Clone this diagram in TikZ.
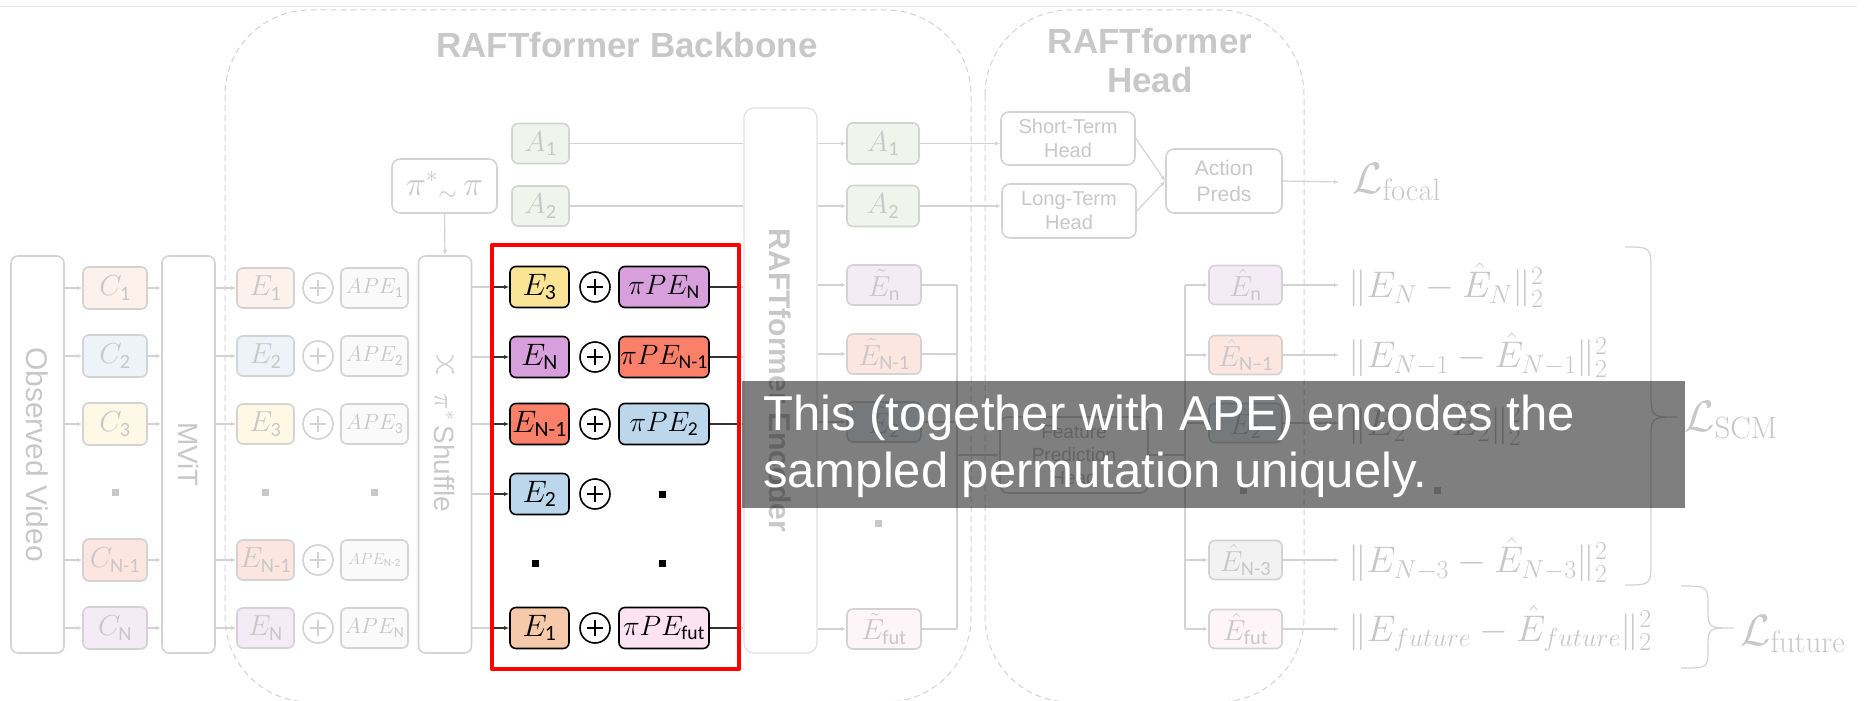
\documentclass[tikz,border=0pt]{standalone}
\usepackage{fix-cm}
\usepackage{amsmath}
\usepackage[no-math]{fontspec}
\setmainfont{Liberation Sans}
\newfontfamily\subsf{Carlito}
\usetikzlibrary{arrows.meta}

% italic symbol with an upright sans index
\newcommand{\tok}[2]{$#1_{\text{\subsf #2}}$}

\begin{document}
\begin{tikzpicture}[x=1pt,y=-1pt,line join=round,
  colframe/.style={draw=fadeln,line width=1.6pt,rounded corners=7pt,
    minimum width=53pt,minimum height=397pt,inner sep=0pt},
  fadebox/.style={draw=fadeln,line width=1.6pt,rounded corners=6pt,minimum width=57pt,
    minimum height=40pt,inner sep=0pt,text=fadetx,font=\fontsize{29}{32}\selectfont},
  spotbox/.style={draw=black,line width=1.6pt,rounded corners=6pt,minimum width=59pt,
    minimum height=41pt,inner sep=0pt,font=\fontsize{31}{34}\selectfont},
  textbox/.style={draw=fadeln,line width=1.6pt,rounded corners=8pt,fill=white,
    text=fadetx,align=center,inner sep=0pt},
  oplus/.style={circle,draw=#1,line width=1.6pt,minimum size=30pt,inner sep=0pt,
    path picture={\draw[#1,line width=1.6pt]
      ([xshift=-8pt]path picture bounding box.center) -- ([xshift=8pt]path picture bounding box.center)
      ([yshift=-8pt]path picture bounding box.center) -- ([yshift=8pt]path picture bounding box.center);}},
  fadedot/.style={fill=fadetx,minimum size=7pt,inner sep=0pt},
  spotdot/.style={fill=black,minimum size=7pt,inner sep=0pt},
  fline/.style={draw=fadeln,line width=1.2pt},
  farr/.style={fline,-{Latex[length=5pt,width=4pt]}},
  sline/.style={draw=black!80,line width=1.2pt},
  sarr/.style={sline,-{Latex[length=5pt,width=4pt]}},
  loss/.style={anchor=west,text=fadetx,inner sep=0pt,font=\fontsize{37}{40}\selectfont},
  lossname/.style={anchor=west,text=fadetx,inner sep=0pt,font=\fontsize{44}{46}\selectfont},
  brace/.style={draw=fadeln,line width=1.2pt},
  dashbox/.style={draw=fadeln,line width=1pt,dash pattern=on 6pt off 4pt,rounded corners=85pt}]
  \definecolor{fadeln}{HTML}{D3D3D3}
  \definecolor{fadetx}{HTML}{C8C8C8}
  \definecolor{encln}{HTML}{E0E0E0}
  \definecolor{topln}{HTML}{EBEBEB}
  \definecolor{fpeach}{HTML}{FDF2EB}
  \definecolor{fblue}{HTML}{EEF3F9}
  \definecolor{fyellow}{HTML}{FEF8E5}
  \definecolor{fsalmon}{HTML}{FDE5E0}
  \definecolor{fpurple}{HTML}{F4EBF6}
  \definecolor{fgreen}{HTML}{EFF5EC}
  \definecolor{fgray}{HTML}{F2F2F2}
  \definecolor{fpink}{HTML}{FEF5F9}
  \definecolor{fwhite}{HTML}{FAFAFA}
  \definecolor{syellow}{HTML}{FCE496}
  \definecolor{spurple}{HTML}{D7A0DC}
  \definecolor{ssalmon}{HTML}{FA8069}
  \definecolor{sblue}{HTML}{BCD6EC}
  \definecolor{speach}{HTML}{F6C9AA}
  \definecolor{spink}{HTML}{FDE2F2}

  \path[use as bounding box] (0,0) rectangle (1864,701);
  \draw[topln,line width=1pt] (0,7) -- (1857,7);

  % dashed stage outlines and their titles
  \draw[dashbox] (225,10) rectangle (971,702);
  \draw[dashbox] (985,10) rectangle (1304,702);
  \node[text=fadetx,font=\bfseries\fontsize{35}{39}\selectfont] at (627,45) {RAFTformer Backbone};
  \node[text=fadetx,font=\bfseries\fontsize{35}{39}\selectfont,align=center] at (1150,60) {RAFTformer\\Head};

  % video, MViT and shuffle columns
  \node[colframe] (vid) at (37.5,454.5) {};
  \node[colframe] (mvit) at (188.5,454.5) {};
  \node[colframe] (shuf) at (445,454.5) {};
  \node[rotate=-90,text=fadetx,font=\fontsize{30}{32}\selectfont] at (vid) {Observed Video};
  \node[rotate=-90,text=fadetx,font=\fontsize{28}{30}\selectfont] at (mvit) {MViT};
  \node[rotate=-90,text=fadetx,font=\fontsize{28}{30}\selectfont] at (445,453) {$\pi^{*}$\,Shuffle};
  % shuffle glyph
  \draw[fline,line width=1.5pt,-{Latex[length=4pt,width=4pt]}]
    (437,355) .. controls (437,365) and (453,364) .. (453,375);
  \draw[fline,line width=1.5pt,-{Latex[length=4pt,width=4pt]}]
    (453,355) .. controls (453,365) and (437,364) .. (437,375);

  \foreach \y/\id/\sub/\apesub/\apesz/\fc in {288/1/1/1/22/fpeach,356/2/2/2/22/fblue,
      424/3/3/3/22/fyellow,560/5/N-1/N-2/16/fsalmon,628/6/N/N/22/fpurple}{
    \node[fadebox,fill=\fc,minimum width=64pt,minimum height=42pt] (c\id) at (115,\y) {\tok{C}{\sub}};
    \node[fadebox,fill=\fc] (e\id) at (265.5,\y) {\tok{E}{\sub}};
    \node[oplus=fadeln] (p\id) at (318,\y) {};
    \node[fadebox,fill=fwhite,minimum width=67pt,font=\fontsize{\apesz}{\apesz}\selectfont]
      (ape\id) at (374.5,\y) {\tok{APE}{\apesub}};
    \draw[farr] (vid.east |- c\id.west) -- (c\id.west);
    \draw[farr] (c\id.east) -- (mvit.west |- c\id.east);
    \draw[farr] (mvit.east |- e\id.west) -- (e\id.west);
  }
  \foreach \x in {115,265.5,374.5}{
    \node[fadedot] at (\x,492) {};
  }

  % sampled permutation
  \node[textbox,minimum width=105pt,minimum height=54pt,font=\fontsize{34}{36}\selectfont]
    (perm) at (444.5,186) {$\pi^{*}{}_{\sim}\,\pi$};
  \draw[farr] (perm.south) -- (shuf.north);

  \node[fadebox,fill=fgreen] (a1) at (540.5,143.5) {\tok{A}{1}};
  \node[fadebox,fill=fgreen] (a2) at (540.5,206) {\tok{A}{2}};

  % encoder
  \node[draw=encln,line width=1.2pt,rounded corners=10pt,minimum width=73pt,
    minimum height=545pt,inner sep=0pt] (enc) at (780.5,380.5) {};
  \node[rotate=-90,text=fadetx,font=\bfseries\fontsize{30}{32}\selectfont] at (enc) {RAFTformer Encoder};
  \draw[fline] (a1.east) -- (enc.west |- a1.east);
  \draw[fline] (a2.east) -- (enc.west |- a2.east);

  % shuffled tokens with permuted encodings
  \node[minimum width=247pt,minimum height=424pt,inner sep=0pt] (spot) at (615.5,457) {};
  \foreach \y/\id/\esub/\efc/\psub/\pfc in {287/1/3/syellow/N/spurple,357/2/N/spurple/N-1/ssalmon,
      424/3/N-1/ssalmon/2/sblue,628/6/1/speach/fut/spink}{
    \node[spotbox,fill=\efc] (se\id) at (539.5,\y) {\tok{E}{\esub}};
    \node[oplus=black] (sp\id) at (595,\y) {};
    \node[spotbox,fill=\pfc,minimum width=90pt,font=\fontsize{28}{31}\selectfont]
      (pe\id) at (664,\y) {\tok{\pi PE}{\psub}};
    \draw[sline] (pe\id.east) -- (spot.east |- pe\id.east);
    \draw[fline] (spot.east |- pe\id.east) -- (enc.west |- pe\id.east);
  }
  \node[spotbox,fill=sblue] (se4) at (539.5,494) {\tok{E}{2}};
  \node[oplus=black] (sp4) at (595,494) {};
  \node[spotdot] at (662,494) {};
  \node[spotdot] at (535,563) {};
  \node[spotdot] at (662,563) {};
  \foreach \id in {1,2,3,4,6}{
    \draw[fline] (shuf.east |- se\id.west) -- (spot.west |- se\id.west);
    \draw[sarr] (spot.west |- se\id.west) -- (se\id.west);
  }
  \draw[red,line width=4pt] (spot.north west) rectangle (spot.south east);

  % encoder outputs
  \node[fadebox,fill=fgreen,minimum width=72pt,minimum height=41pt] (a1r) at (883,143.5) {\tok{A}{1}};
  \node[fadebox,fill=fgreen,minimum width=72pt,minimum height=41pt] (a2r) at (883,206) {\tok{A}{2}};
  \draw[farr] (enc.east |- a1r.west) -- (a1r.west);
  \draw[farr] (enc.east |- a2r.west) -- (a2r.west);
  \coordinate (jl) at (957,455);
  \foreach \y/\id/\sub/\fc in {285/1/n/fpurple,354/2/N-1/fsalmon,422/3/2/fblue,629/6/fut/fpink}{
    \node[fadebox,fill=\fc,minimum width=74pt] (t\id) at (884,\y) {\tok{\tilde{E}}{\sub}};
    \draw[farr] (enc.east |- t\id.west) -- (t\id.west);
    \draw[fline] (t\id.east) -- (t\id.east -| jl);
  }
  \node[fadedot] at (878,523) {};
  \draw[fline] (t1.east -| jl) -- (t6.east -| jl);

  % head
  \node[textbox,minimum width=148pt,minimum height=76pt,font=\fontsize{19}{23}\selectfont]
    (fph) at (1074,455) {Feature\\Prediction\\Head};
  \draw[farr] (jl) -- (fph.west |- jl);
  \coordinate (jr) at (1185,455);
  \draw[fline] (fph.east |- jr) -- (jr);
  \node[textbox,minimum width=134pt,minimum height=53pt,font=\fontsize{20}{24}\selectfont]
    (sth) at (1068,138.5) {Short-Term\\Head};
  \node[textbox,minimum width=134pt,minimum height=54pt,font=\fontsize{20}{24}\selectfont]
    (lth) at (1069,211) {Long-Term\\Head};
  \node[textbox,minimum width=116pt,minimum height=64pt,font=\fontsize{21}{26}\selectfont]
    (act) at (1224,181) {Action\\Preds};
  \draw[farr] (a1r.east) -- (a1r.east -| sth.west);
  \draw[farr] (a2r.east) -- (a2r.east -| lth.west);
  \draw[farr] (sth.east) -- (act.west);
  \draw[farr] (lth.east) -- (act.west);
  \node[lossname] (lfoc) at (1352,182) {$\mathcal{L}_{\mathrm{focal}}$};
  \draw[farr] (act.east) -- ([xshift=-13pt]lfoc.west);

  % predicted features and their reconstruction terms
  \foreach \y/\id/\sub/\fc/\ix in {285/1/n/fpurple/N,355/2/N–1/fsalmon/N-1,423/3/2/fblue/2,
      560/5/N-3/fgray/N-3,629/6/fut/fpink/future}{
    \node[fadebox,fill=\fc,minimum width=73pt,minimum height=39pt] (h\id) at (1245.5,\y) {\tok{\hat{E}}{\sub}};
    \draw[farr] (jr |- h\id.west) -- (h\id.west);
    \node[loss] (l\id) at (1348,\y) {$\|E_{\ix}-\hat{E}_{\ix}\|_2^2$};
    \draw[farr] (h\id.east) -- ([xshift=-9pt]l\id.west);
  }
  \draw[fline] (jr |- h1.west) -- (jr |- h6.west);
  \node[fadedot] at (1243,490) {};
  \node[fadedot] at (1437,490) {};

  \draw[brace] (1625,247) .. controls (1651,247) .. (1651,273) -- (1651,391)
    .. controls (1651,417) .. (1677,417) .. controls (1651,417) .. (1651,443) -- (1651,559)
    .. controls (1651,585) .. (1625,585);
  \node[lossname] (lscm) at (1684,420) {$\mathcal{L}_{\mathrm{SCM}}$};
  \draw[brace] (1681,586) .. controls (1708,586) .. (1708,607) .. controls (1708,628) .. (1733,628)
    .. controls (1708,628) .. (1708,649) .. controls (1708,668) .. (1681,668);
  \node[lossname] (lfut) at (1740,634) {$\mathcal{L}_{\mathrm{future}}$};

  % note over the diagram
  \fill[black,opacity=0.5] (742,381) rectangle (1685,508);
  \node[anchor=base west,text=white,inner sep=0pt,font=\fontsize{49}{57}\selectfont]
    (note1) at (763,430) {This (together with APE) encodes the};
  \node[anchor=base west,text=white,inner sep=0pt,font=\fontsize{49}{57}\selectfont]
    (note2) at (763,487) {sampled permutation uniquely.};
\end{tikzpicture}
\end{document}
